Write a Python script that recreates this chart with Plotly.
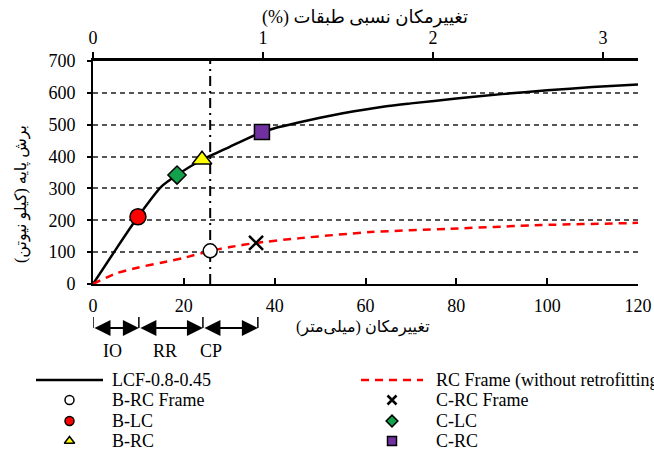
import plotly.graph_objects as go

W, H = 654, 452
SERIF = "Liberation Serif, Times New Roman, serif"
PERSIAN = "Liberation Serif, DejaVu Sans, sans-serif"
RLM = "\u200f"

# Capacity curve of the retrofitted frame (LCF-0.8-0.45)
lcf_disp = [0, 5, 9.9, 15, 18.5, 24, 30, 37.2, 40, 45, 50, 55, 60, 65, 70, 80, 90, 100, 110, 120]
lcf_shear = [0, 108, 211, 305, 342, 390, 430, 477, 489, 506, 522, 536, 548, 559, 567, 582, 596, 608, 618, 626]

# Capacity curve of the bare RC frame
rc_disp = [0, 5, 10, 15, 20, 25.8, 30.2, 35.9, 45.6, 61, 78.2, 98.5, 117.8, 120]
rc_shear = [0, 33, 52, 67, 82, 104, 116, 129, 144, 163, 173, 185, 191, 192]

# Performance points on the two curves
point_labels = ["B-RC Frame", "C-RC Frame", "B-LC", "C-LC", "B-RC", "C-RC"]
point_disp = [25.8, 35.9, 9.9, 18.5, 24.0, 37.2]
point_shear = [104, 129, 211, 342, 390, 477]

# Target displacement (mm)
target_disp = 25.8

# Performance levels and their displacement limits (mm)
level_names = ["IO", "RR", "CP"]
level_edges = [0, 10.1, 24.2, 36.3]
level_label_x = [4.2, 15.9, 26.0]

# Axis ticks
disp_ticks = [0, 20, 40, 60, 80, 100, 120]
shear_ticks = [0, 100, 200, 300, 400, 500, 600, 700]
drift_ticks = [0, 1, 2, 3]
mm_per_percent_drift = 37.43

# Marker styles
point_style = {
    "B-RC Frame": dict(symbol="circle", color="white", size=14),
    "C-RC Frame": dict(symbol="x-thin-open", color="black", size=14),
    "B-LC": dict(symbol="circle", color="#ff0000", size=16),
    "C-LC": dict(symbol="diamond", color="#13a14b", size=14),
    "B-RC": dict(symbol="triangle-up", color="#ffff00", size=17),
    "C-RC": dict(symbol="square", color="#7030a0", size=15),
}


def px_x(v):
    return v / W


def px_y(v):
    return 1 - v / H


def make_marker(style, size, lw):
    if style["symbol"].startswith("x"):
        return dict(symbol=style["symbol"], size=size, color="black",
                    line=dict(color="black", width=lw + 1))
    return dict(symbol=style["symbol"], size=size, color=style["color"],
                line=dict(color="black", width=lw))


fig = go.Figure()

# Capacity curves
fig.add_trace(go.Scatter(x=lcf_disp, y=lcf_shear, mode="lines",
                         line=dict(color="black", width=2.5, shape="spline", smoothing=0.6),
                         showlegend=False))
fig.add_trace(go.Scatter(x=rc_disp, y=rc_shear, mode="lines",
                         line=dict(color="#ff0000", width=2.5, dash="8px,6px", shape="spline", smoothing=0.6),
                         showlegend=False))

# Target displacement line
fig.add_trace(go.Scatter(x=[target_disp, target_disp], y=[shear_ticks[0], shear_ticks[-1]],
                         mode="lines", line=dict(color="black", width=2, dash="10px,5px,2px,5px"),
                         showlegend=False))

# Performance points
for name, d, v in zip(point_labels, point_disp, point_shear):
    st = point_style[name]
    fig.add_trace(go.Scatter(x=[d], y=[v], mode="markers", marker=make_marker(st, st["size"], 1.5),
                             showlegend=False, cliponaxis=False))

# Invisible trace on the drift axis so it is laid out
fig.add_trace(go.Scatter(x=[0], y=[0], xaxis="x2", mode="markers",
                         marker=dict(opacity=0), showlegend=False, hoverinfo="skip"))

# ---- Legend block drawn on a helper subplot (pixel-like coordinates) ----
legend_rows = [380, 400, 421, 441]
col_line = [(36, 103), (361, 423)]
col_text = [110, 434]
legend_items = [
    ("line", "LCF-0.8-0.45"), ("dash", "RC Frame (without retrofitting)"),
    ("pt", "B-RC Frame"), ("pt", "C-RC Frame"),
    ("pt", "B-LC"), ("pt", "C-LC"),
    ("pt", "B-RC"), ("pt", "C-RC"),
]
legend_annots = []
for i, (kind, label) in enumerate(legend_items):
    row, col = divmod(i, 2)
    yy = legend_rows[row]
    x0, x1 = col_line[col]
    if kind in ("line", "dash"):
        fig.add_trace(go.Scatter(
            x=[x0, x1], y=[yy, yy], xaxis="x3", yaxis="y3", mode="lines",
            line=dict(color="black" if kind == "line" else "#ff0000", width=2.5,
                      dash="solid" if kind == "line" else "8px,6px"),
            showlegend=False, hoverinfo="skip", cliponaxis=False))
    else:
        fig.add_trace(go.Scatter(x=[(x0 + x1) / 2], y=[yy], xaxis="x3", yaxis="y3",
                                 mode="markers", marker=make_marker(point_style[label], 9, 1.5),
                                 showlegend=False, hoverinfo="skip", cliponaxis=False))
    legend_annots.append(dict(x=col_text[col], y=yy, xref="x3", yref="y3", text=label,
                              showarrow=False, xanchor="left", yanchor="middle",
                              font=dict(family=SERIF, size=18, color="black")))

# ---- Performance level arrows under the displacement axis ----
arrow_y = px_y(328)
annots = []
for a, b in zip(level_edges[:-1], level_edges[1:]):
    annots.append(dict(x=b, y=arrow_y, xref="x", yref="paper", ax=a, ay=0,
                       axref="x", ayref="pixel", text="", showarrow=True,
                       arrowhead=2, arrowside="end+start", arrowsize=1.6, arrowwidth=2,
                       arrowcolor="black", standoff=0, startstandoff=0))
for name, lx in zip(level_names, level_label_x):
    annots.append(dict(x=lx, y=px_y(351), xref="x", yref="paper", text=name, showarrow=False,
                       xanchor="center", yanchor="middle",
                       font=dict(family=SERIF, size=18, color="black")))
shapes = []
for e in level_edges:
    shapes.append(dict(type="line", xref="x", yref="paper", x0=e, x1=e,
                       y0=px_y(317), y1=arrow_y, line=dict(color="black", width=1.5)))

# Axis titles (Persian, right-to-left)
annots.append(dict(x=px_x(365), y=px_y(18), xref="paper", yref="paper",
                   text=RLM + "تغییرمکان نسبی طبقات (%)" + RLM, showarrow=False,
                   xanchor="center", yanchor="middle",
                   font=dict(family=PERSIAN, size=18, color="black")))
annots.append(dict(x=px_x(363), y=px_y(327), xref="paper", yref="paper",
                   text=RLM + "تغییرمکان (میلی‌متر)" + RLM, showarrow=False,
                   xanchor="center", yanchor="middle",
                   font=dict(family=PERSIAN, size=16, color="black")))
annots.append(dict(x=px_x(21), y=px_y(194), xref="paper", yref="paper",
                   text=RLM + "برش پایه (کیلو نیوتن)" + RLM, showarrow=False, textangle=-90,
                   xanchor="center", yanchor="middle",
                   font=dict(family=PERSIAN, size=16, color="black")))

tickfont = dict(family=SERIF, size=18, color="black")
fig.update_layout(
    template="none",
    width=W, height=H,
    margin=dict(l=0, r=0, t=0, b=0, pad=0),
    font=dict(family=SERIF, color="black"),
    paper_bgcolor="white", plot_bgcolor="white",
    showlegend=False,
    xaxis=dict(domain=[px_x(93), px_x(638)], range=[0, 120], tickvals=disp_ticks,
               ticks="inside", ticklen=6, tickwidth=2, tickcolor="black",
               showline=True, linewidth=2, linecolor="black", showgrid=False,
               zeroline=False, tickfont=tickfont, ticklabelstandoff=4, anchor="y",
               fixedrange=True, automargin=False),
    xaxis2=dict(overlaying="x", side="top", anchor="y", range=[0, 120 / mm_per_percent_drift],
                tickvals=drift_ticks, ticks="outside", ticklen=6, tickwidth=2, tickcolor="black",
                showline=True, linewidth=3, linecolor="black", showgrid=False,
                zeroline=False, tickfont=tickfont, ticklabelstandoff=1, fixedrange=True,
                automargin=False),
    yaxis=dict(domain=[px_y(284), px_y(61)], range=[0, 700], tickvals=shear_ticks,
               ticks="outside", ticklen=4, tickwidth=1.5, tickcolor="black",
               showline=True, linewidth=2, linecolor="black",
               showgrid=True, gridcolor="#555555", gridwidth=1.5, griddash="5px,4px",
               zeroline=False, tickfont=tickfont, ticklabelstandoff=8, anchor="x",
               fixedrange=True, automargin=False),
    xaxis3=dict(domain=[0, 1], range=[0, W], visible=False, fixedrange=True, anchor="y3",
                automargin=False),
    yaxis3=dict(domain=[0, 92 / H], range=[H, 360], visible=False, fixedrange=True, anchor="x3",
                automargin=False),
    annotations=annots + legend_annots,
    shapes=shapes,
)

fig.write_html("out.html")
